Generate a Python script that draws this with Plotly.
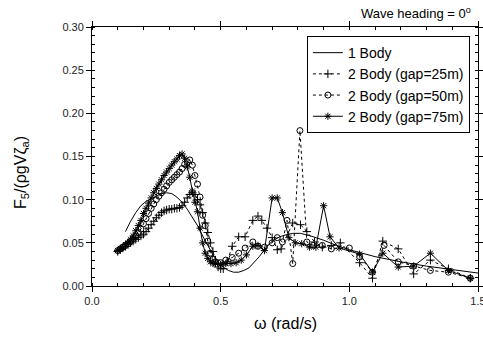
import plotly.graph_objects as go

# ---------------- data ----------------
w_1body = [0.13, 0.15, 0.17, 0.19, 0.21, 0.23, 0.25, 0.27, 0.29, 0.31, 0.33, 0.35, 0.37, 0.39,
           0.41, 0.43, 0.45, 0.47, 0.49, 0.51, 0.53, 0.55, 0.57, 0.59, 0.61, 0.63, 0.65, 0.67,
           0.69, 0.71, 0.73, 0.75, 0.78, 0.81, 0.85, 0.90, 0.95, 1.00, 1.10, 1.20, 1.30, 1.40, 1.50]
f_1body = [0.063, 0.075, 0.085, 0.093, 0.098, 0.101, 0.104, 0.107, 0.108, 0.107, 0.103, 0.097,
           0.089, 0.080, 0.070, 0.058, 0.047, 0.036, 0.028, 0.022, 0.018, 0.016, 0.016, 0.018,
           0.021, 0.027, 0.034, 0.042, 0.049, 0.054, 0.057, 0.059, 0.061, 0.061, 0.058, 0.053,
           0.047, 0.042, 0.034, 0.028, 0.023, 0.019, 0.015]

w_gap25 = [0.10, 0.11, 0.12, 0.13, 0.14, 0.15, 0.16, 0.17, 0.18, 0.19, 0.20, 0.21, 0.22, 0.23,
           0.24, 0.25, 0.26, 0.27, 0.28, 0.29, 0.30, 0.31, 0.32, 0.33, 0.34, 0.35, 0.36, 0.37,
           0.38, 0.39, 0.40, 0.41, 0.42, 0.43, 0.44, 0.45, 0.46, 0.47, 0.48, 0.49, 0.50, 0.51,
           0.525, 0.545, 0.57, 0.595, 0.625, 0.645, 0.66, 0.68, 0.70, 0.72, 0.735, 0.78, 0.81,
           0.835, 0.865, 0.895, 0.93, 0.965, 1.04, 1.09, 1.13, 1.19, 1.25, 1.315, 1.385, 1.47]
f_gap25 = [0.040, 0.042, 0.044, 0.046, 0.048, 0.050, 0.052, 0.054, 0.056, 0.058, 0.060, 0.063,
           0.067, 0.071, 0.075, 0.079, 0.082, 0.085, 0.087, 0.088, 0.089, 0.089, 0.090, 0.090,
           0.091, 0.093, 0.097, 0.102, 0.106, 0.108, 0.106, 0.100, 0.094, 0.085, 0.073, 0.062,
           0.050, 0.040, 0.030, 0.022, 0.020, 0.020, 0.028, 0.046, 0.057, 0.057, 0.076, 0.081,
           0.076, 0.067, 0.056, 0.042, 0.043, 0.073, 0.071, 0.063, 0.051, 0.045, 0.047, 0.050,
           0.027, 0.009, 0.052, 0.043, 0.014, 0.030, 0.020, 0.009]

w_gap50 = [0.10, 0.11, 0.12, 0.13, 0.14, 0.15, 0.16, 0.17, 0.18, 0.19, 0.20, 0.21, 0.22, 0.23,
           0.24, 0.25, 0.26, 0.27, 0.28, 0.29, 0.30, 0.31, 0.32, 0.33, 0.34, 0.35, 0.36, 0.37,
           0.38, 0.39, 0.40, 0.41, 0.42, 0.43, 0.44, 0.45, 0.46, 0.47, 0.48, 0.50, 0.52, 0.545,
           0.57, 0.595, 0.625, 0.645, 0.67, 0.70, 0.72, 0.74, 0.758, 0.78, 0.808, 0.835, 0.86,
           0.895, 0.93, 1.00, 1.04, 1.09, 1.135, 1.19, 1.25, 1.315, 1.385, 1.47]
f_gap50 = [0.041, 0.043, 0.045, 0.047, 0.049, 0.052, 0.055, 0.058, 0.062, 0.066, 0.072, 0.078,
           0.084, 0.090, 0.095, 0.100, 0.104, 0.108, 0.112, 0.116, 0.120, 0.123, 0.126, 0.129,
           0.132, 0.136, 0.141, 0.144, 0.146, 0.140, 0.128, 0.118, 0.103, 0.082, 0.070, 0.052,
           0.038, 0.031, 0.028, 0.027, 0.030, 0.033, 0.038, 0.044, 0.051, 0.046, 0.045, 0.050,
           0.056, 0.051, 0.076, 0.026, 0.180, 0.051, 0.047, 0.047, 0.043, 0.044, 0.034, 0.016,
           0.047, 0.028, 0.023, 0.018, 0.016, 0.009]

w_gap75 = [0.10, 0.11, 0.12, 0.13, 0.14, 0.15, 0.16, 0.17, 0.18, 0.19, 0.20, 0.21, 0.22, 0.23,
           0.24, 0.25, 0.26, 0.27, 0.28, 0.29, 0.30, 0.31, 0.32, 0.33, 0.34, 0.35, 0.36, 0.37,
           0.38, 0.39, 0.40, 0.41, 0.42, 0.43, 0.44, 0.45, 0.46, 0.47, 0.48, 0.50, 0.52, 0.54,
           0.56, 0.58, 0.60, 0.625, 0.645, 0.67, 0.70, 0.72, 0.74, 0.765, 0.79, 0.815, 0.845,
           0.87, 0.90, 0.925, 0.96, 1.04, 1.09, 1.13, 1.19, 1.25, 1.315, 1.385, 1.47]
f_gap75 = [0.041, 0.043, 0.045, 0.048, 0.050, 0.054, 0.058, 0.064, 0.070, 0.076, 0.084, 0.090,
           0.096, 0.102, 0.108, 0.113, 0.118, 0.123, 0.128, 0.132, 0.136, 0.140, 0.144, 0.147,
           0.151, 0.153, 0.148, 0.138, 0.126, 0.110, 0.097, 0.086, 0.067, 0.050, 0.038, 0.032,
           0.028, 0.026, 0.026, 0.025, 0.026, 0.026, 0.027, 0.030, 0.036, 0.046, 0.047, 0.041,
           0.102, 0.102, 0.085, 0.056, 0.050, 0.049, 0.045, 0.045, 0.093, 0.057, 0.044, 0.037,
           0.016, 0.038, 0.022, 0.023, 0.038, 0.018, 0.009]

x_ticks = [0.0, 0.5, 1.0, 1.5]
y_ticks = [0.00, 0.05, 0.10, 0.15, 0.20, 0.25, 0.30]

# ---------------- figure ----------------
fig = go.Figure()
fig.add_trace(go.Scatter(x=w_1body, y=f_1body, mode="lines", name="1 Body",
                         line=dict(color="black", width=1)))
fig.add_trace(go.Scatter(x=w_gap25, y=f_gap25, mode="lines+markers", name="2 Body (gap=25m)",
                         line=dict(color="black", width=1, dash="dot"),
                         marker=dict(symbol="cross-thin-open", size=6, color="black",
                                     line=dict(width=1, color="black"))))
fig.add_trace(go.Scatter(x=w_gap50, y=f_gap50, mode="lines+markers", name="2 Body (gap=50m)",
                         line=dict(color="black", width=1, dash="dot"),
                         marker=dict(symbol="circle-open", size=6, color="black",
                                     line=dict(width=1, color="black"))))
fig.add_trace(go.Scatter(x=w_gap75, y=f_gap75, mode="lines+markers", name="2 Body (gap=75m)",
                         line=dict(color="black", width=1),
                         marker=dict(symbol="asterisk-open", size=6, color="black",
                                     line=dict(width=1, color="black"))))

axis_common = dict(showline=True, linecolor="black", linewidth=1, mirror="allticks",
                   showgrid=False, zeroline=False, ticks="outside", ticklen=5,
                   automargin=False, ticklabeloverflow="allow",
                   tickcolor="black", tickfont=dict(family="Liberation Sans, Arial", size=11,
                                                    color="#222"))

fig.update_xaxes(range=[0, 1.5], tickvals=x_ticks, tickformat=".1f",
                 minor=dict(dtick=0.1, ticks="inside", ticklen=3, tickcolor="black"),
                 **axis_common)
fig.update_yaxes(range=[0, 0.30], tickvals=y_ticks, tickformat=".2f",
                 minor=dict(dtick=0.01, ticks="inside", ticklen=3, tickcolor="black"),
                 **axis_common)

fig.update_layout(
    width=483, height=339,
    margin=dict(l=92, r=5, t=27, b=53),
    paper_bgcolor="white", plot_bgcolor="white",
    font=dict(family="Liberation Sans, Arial", color="black"),
    showlegend=True,
    legend=dict(x=0.979, y=0.965, xanchor="right", yanchor="top",
                bgcolor="white", bordercolor="black", borderwidth=1,
                font=dict(size=14, family="Liberation Sans, Arial"),
                tracegroupgap=0),
    annotations=[
        dict(text="F<sub>5</sub>/(ρgVζ<sub>a</sub>)", xref="paper", yref="paper",
             x=-0.184, y=0.44, xanchor="center", yanchor="middle", textangle=-90,
             showarrow=False, font=dict(size=16)),
        dict(text="ω (rad/s)", xref="paper", yref="paper", x=0.5, y=-0.143,
             xanchor="center", yanchor="middle", showarrow=False, font=dict(size=16)),
        dict(text="Wave heading = 0<sup>o</sup>", xref="paper", yref="paper",
             x=0.987, y=1.054, xanchor="right", yanchor="middle", showarrow=False,
             font=dict(size=13)),
    ],
)

fig.write_html("out.html")
